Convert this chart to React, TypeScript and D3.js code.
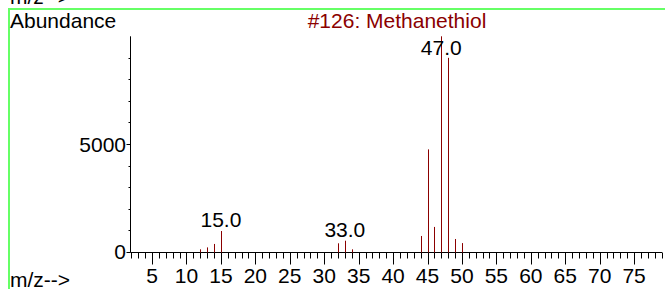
import React from "react";
import * as d3 from "d3";

const mzValues = [12, 13, 14, 15, 32, 33, 34, 44, 45, 46, 47, 48, 49, 50];
const abundances = [110, 200, 360, 960, 390, 510, 110, 730, 4750, 1150, 10000, 9000, 590, 400];
const peakLabelMz = [15, 33, 47];
const peakLabelText = ["15.0", "33.0", "47.0"];
const peakLabelLevel = [960, 510, 8950];
const xMajorTicks = [5, 10, 15, 20, 25, 30, 35, 40, 45, 50, 55, 60, 65, 70, 75];
const yMajorTicks = [0, 5000];
const title = "#126: Methanethiol";
const yTitle = "Abundance";
const xTitle = "m/z-->";

const W = 665;
const H = 289;
const FONT = "'Liberation Sans', Arial, sans-serif";
const RED = "#8b0000";

export default function App() {
  const x = d3.scaleLinear().domain([1.8, 79.05]).range([130, 662]);
  const y = d3.scaleLinear().domain([0, 10000]).range([251.7, 36.3]);
  const minorX = d3.range(2, 80);
  const minorY = d3.range(1000, 10000, 1000);
  const x0 = Math.round(x(1.8)) + 0.5;
  const yb = Math.round(y(0)) + 0.5;

  return (
    <div style={{ position: "fixed", left: 0, top: 0, width: W, height: H, background: "#fff" }}>
      <svg width={W} height={H} style={{ display: "block" }} fontFamily={FONT}>
        <rect x={0} y={0} width={W} height={H} fill="#fff" />
        {/* remnant of previous panel */}
        <g>
          <text x={10} y={3.5} fontSize={21} fill="#000">{xTitle}</text>
          {xMajorTicks.map((t) => (
            <text key={"r" + t} x={x(t)} y={-0.5} fontSize={21} textAnchor="middle" fill="#000">{t}</text>
          ))}
        </g>
        <rect x={8} y={8} width={W} height={H} fill="#fff" />
        {/* green frame */}
        <line x1={8} x2={W} y1={9} y2={9} stroke="#66ff66" strokeWidth={2} />
        <line x1={9} x2={9} y1={8} y2={H} stroke="#66ff66" strokeWidth={2} />

        <text x={10} y={28} fontSize={21} fill="#000">{yTitle}</text>
        <text x={397} y={28} fontSize={21} fill={RED} textAnchor="middle">{title}</text>

        {/* y axis */}
        <line x1={x0} x2={x0} y1={y(10000)} y2={yb} stroke="#000" strokeWidth={1} />
        {minorY.map((v) => (
          <line key={"my" + v} x1={x0 - 2} x2={x0} y1={Math.round(y(v)) + 0.5} y2={Math.round(y(v)) + 0.5} stroke="#000" />
        ))}
        {yMajorTicks.map((v) => (
          <g key={"Y" + v}>
            <line x1={x0 - 4} x2={x0} y1={Math.round(y(v)) + 0.5} y2={Math.round(y(v)) + 0.5} stroke="#000" />
            <text x={126} y={y(v) + 7.5} fontSize={21} textAnchor="end" fill="#000">{v}</text>
          </g>
        ))}

        {/* x axis */}
        <line x1={x0} x2={662} y1={yb} y2={yb} stroke="#000" strokeWidth={1} />
        {minorX.map((t) => (
          <line key={"mx" + t} x1={Math.round(x(t)) + 0.5} x2={Math.round(x(t)) + 0.5} y1={yb} y2={yb + (t % 5 === 0 ? 12 : 6)} stroke="#000" />
        ))}
        {xMajorTicks.map((t) => (
          <text key={"X" + t} x={x(t)} y={283} fontSize={21} textAnchor="middle" fill="#000">{t}</text>
        ))}
        <text x={10} y={287} fontSize={21} fill="#000">{xTitle}</text>

        {/* peaks */}
        {mzValues.map((m, i) => (
          <line key={"p" + m} x1={Math.round(x(m)) + 0.5} x2={Math.round(x(m)) + 0.5} y1={yb} y2={y(abundances[i])} stroke={RED} strokeWidth={1} />
        ))}
        {peakLabelMz.map((m, i) => (
          <text key={"l" + m} x={x(m)} y={y(peakLabelLevel[i]) - 4} fontSize={21} textAnchor="middle" fill="#000">{peakLabelText[i]}</text>
        ))}
      </svg>
    </div>
  );
}
